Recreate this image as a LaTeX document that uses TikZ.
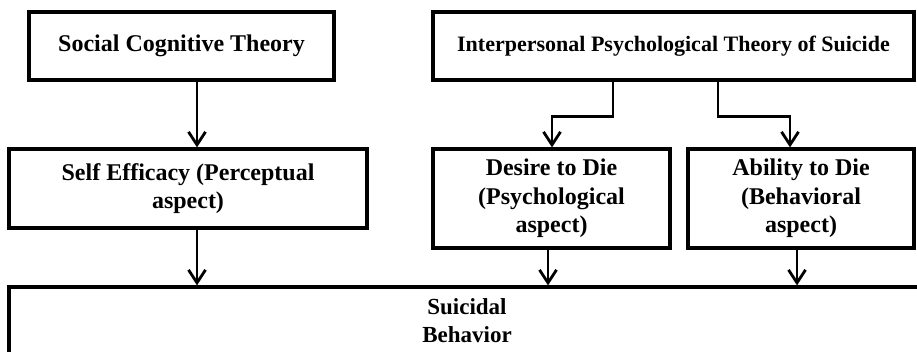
\documentclass[tikz,border=0pt]{standalone}
\usepackage{fontspec}
\setmainfont{Liberation Serif}
\usetikzlibrary{arrows.meta}

\tikzset{
    box/.style={draw,line width=3.2pt,rectangle,align=center,inner sep=0pt,
        font=\bfseries\fontsize{24}{28.5}\selectfont},
    arr/.style={line width=2.8pt,-{Straight Barb[length=13pt,width=17pt,line width=2.8pt]}}
}

\begin{document}
\begin{tikzpicture}[x=1pt,y=-1pt]
    \useasboundingbox(0,0)rectangle(917,352);
    \clip(0,0)rectangle(917,352);
    \fill[white](0,0)rectangle(917,352);

    \node[box,minimum width=305,minimum height=68](soc)at(181.5,46){Social Cognitive Theory};
    \node[box,minimum width=481,minimum height=68,font=\bfseries\fontsize{22}{26}\selectfont](ipt)at(673.5,46){Interpersonal Psychological Theory of Suicide};

    \node[box,minimum width=358,minimum height=79](self)at(188,188.5){Self Efficacy (Perceptual\\aspect)};
    \node[box,minimum width=237,minimum height=99](desire)at(551.5,198.5){Desire to Die\\(Psychological\\aspect)};
    \node[box,minimum width=226,minimum height=99](ability)at(801,198.5){Ability to Die\\(Behavioral\\aspect)};

    \node[box,minimum width=916,minimum height=68,font=\bfseries\fontsize{23}{28}\selectfont](beh)at(467,321){Suicidal\\Behavior};

    \draw[arr](soc.south -| 197,0)--(self.north -| 197,0);
    \draw[arr](ipt.south -| 613,0)--++(0,35)-|(desire.north -| 552,0);
    \draw[arr](ipt.south -| 718,0)--++(0,35)-|(ability.north -| 790,0);

    \draw[arr](self.south -| 197,0)--(beh.north -| 197,0);
    \draw[arr](desire.south -| 548,0)--(beh.north -| 548,0);
    \draw[arr](ability.south -| 797,0)--(beh.north -| 797,0);
\end{tikzpicture}
\end{document}
